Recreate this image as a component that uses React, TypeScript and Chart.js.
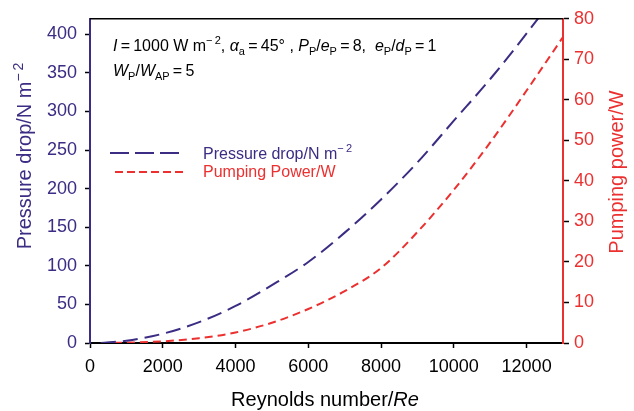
import React, { useEffect, useRef } from "react";
import { Chart, registerables } from "chart.js";

Chart.register(...registerables);

// ---- data ----
const reynolds = [300, 1000, 2000, 3000, 4000, 5000, 6000, 7000, 8000, 9000, 10000, 11000, 12000, 13000];
const pressureDrop = [0, 3, 12, 27, 48, 75, 105, 143, 186, 234, 288, 342, 401, 463];
const pumpingPower = [0, 0.1, 0.4, 1.2, 2.6, 5.0, 8.4, 12.8, 18.5, 27.4, 37.8, 49.5, 62.3, 75.5];

const xTicks = [0, 2000, 4000, 6000, 8000, 10000, 12000];
const leftTicks = [0, 50, 100, 150, 200, 250, 300, 350, 400];
const rightTicks = [0, 10, 20, 30, 40, 50, 60, 70, 80];

const PURPLE = "#3c2c84";
const RED = "#ec3030";
const FAMILY = "'Liberation Sans', Arial, Helvetica, sans-serif";

type Part = { t: string; i?: boolean; sub?: boolean; sup?: boolean };

function measureRich(ctx: CanvasRenderingContext2D, parts: Part[], size: number) {
  let w = 0;
  for (const p of parts) {
    const fs = p.sub || p.sup ? Math.round(size * 0.68) : size;
    ctx.font = `${p.i ? "italic " : ""}${fs}px ${FAMILY}`;
    w += ctx.measureText(p.t).width;
  }
  return w;
}

function drawRich(ctx: CanvasRenderingContext2D, x: number, y: number, parts: Part[], size: number, color: string) {
  let cx = x;
  ctx.fillStyle = color;
  ctx.textBaseline = "alphabetic";
  ctx.textAlign = "left";
  for (const p of parts) {
    const fs = p.sub || p.sup ? Math.round(size * 0.68) : size;
    ctx.font = `${p.i ? "italic " : ""}${fs}px ${FAMILY}`;
    const dy = p.sub ? size * 0.22 : p.sup ? -size * 0.42 : 0;
    ctx.fillText(p.t, cx, y + dy);
    cx += ctx.measureText(p.t).width;
  }
  return cx - x;
}

const T = "\u2009";
const line1: Part[] = [
  { t: "I", i: true }, { t: `${T}=${T}1000 W m` }, { t: "\u2212\u20092", sup: true }, { t: ", " },
  { t: "\u03b1", i: true }, { t: "a", sub: true }, { t: `${T}=${T}45\u00b0 , ` },
  { t: "P", i: true }, { t: "P", sub: true }, { t: "/" }, { t: "e", i: true }, { t: "P", sub: true },
  { t: `${T}=${T}8,  ` },
  { t: "e", i: true }, { t: "P", sub: true }, { t: "/" }, { t: "d", i: true }, { t: "P", sub: true },
  { t: `${T}=${T}1` },
];
const line2: Part[] = [
  { t: "W", i: true }, { t: "P", sub: true }, { t: "/" }, { t: "W", i: true }, { t: "AP", sub: true }, { t: `${T}=${T}5` },
];
const legend1: Part[] = [{ t: "Pressure drop/N m" }, { t: "\u2212\u20092", sup: true }];
const legend2: Part[] = [{ t: "Pumping Power/W" }];
const leftTitle: Part[] = [{ t: "Pressure drop/N m" }, { t: "\u2212\u20092", sup: true }];
const rightTitle: Part[] = [{ t: "Pumping power/W" }];
const bottomTitle: Part[] = [{ t: "Reynolds number/" }, { t: "Re", i: true }];

const decorPlugin = {
  id: "decor",
  afterDraw(chart: any) {
    const ctx: CanvasRenderingContext2D = chart.ctx;
    const a = chart.chartArea;
    ctx.save();
    // top frame line
    ctx.strokeStyle = "#000";
    ctx.lineWidth = 1.5;
    ctx.beginPath();
    ctx.moveTo(a.left, a.top);
    ctx.lineTo(a.right, a.top);
    ctx.stroke();

    // annotation
    drawRich(ctx, 113, 51, line1, 16, "#000");
    drawRich(ctx, 113, 76, line2, 16, "#000");

    // legend
    ctx.lineWidth = 2;
    ctx.strokeStyle = PURPLE;
    ctx.setLineDash([19, 6]);
    ctx.beginPath();
    ctx.moveTo(110, 153);
    ctx.lineTo(180, 153);
    ctx.stroke();
    ctx.strokeStyle = RED;
    ctx.setLineDash([8, 4]);
    ctx.beginPath();
    ctx.moveTo(115, 172);
    ctx.lineTo(187, 172);
    ctx.stroke();
    ctx.setLineDash([]);
    drawRich(ctx, 203, 159, legend1, 16, PURPLE);
    drawRich(ctx, 203, 177, legend2, 16, RED);

    // axis titles
    const ts = 20;
    let w = measureRich(ctx, leftTitle, ts);
    ctx.save();
    ctx.translate(31, 156);
    ctx.rotate(-Math.PI / 2);
    drawRich(ctx, -w / 2, 0, leftTitle, ts, PURPLE);
    ctx.restore();

    w = measureRich(ctx, rightTitle, ts);
    ctx.save();
    ctx.translate(623, 172);
    ctx.rotate(-Math.PI / 2);
    drawRich(ctx, -w / 2, 0, rightTitle, ts, RED);
    ctx.restore();

    w = measureRich(ctx, bottomTitle, ts);
    drawRich(ctx, 325 - w / 2, 406, bottomTitle, ts, "#000");
    ctx.restore();
  },
};

const setTicks = (values: number[]) => (s: any) => {
  s.ticks = values.map((v) => ({ value: v }));
};

export default function App() {
  const ref = useRef<HTMLCanvasElement | null>(null);
  useEffect(() => {
    if (!ref.current) return;
    const chart = new Chart(ref.current, {
      type: "line",
      data: {
        datasets: [
          {
            label: "Pressure drop/N m-2",
            data: reynolds.map((r, i) => ({ x: r, y: pressureDrop[i] })),
            borderColor: PURPLE,
            borderWidth: 2,
            borderDash: [15, 7],
            pointRadius: 0,
            cubicInterpolationMode: "monotone",
            yAxisID: "y",
          },
          {
            label: "Pumping Power/W",
            data: reynolds.map((r, i) => ({ x: r, y: pumpingPower[i] })),
            borderColor: RED,
            borderWidth: 2,
            borderDash: [8, 5],
            pointRadius: 0,
            cubicInterpolationMode: "monotone",
            yAxisID: "y1",
          },
        ],
      },
      options: {
        responsive: false,
        animation: false,
        devicePixelRatio: 1,
        layout: { padding: { top: 13, left: 0, right: 0, bottom: 0 } },
        plugins: { legend: { display: false }, tooltip: { enabled: false } },
        scales: {
          x: {
            type: "linear",
            min: 0,
            max: 13000,
            afterBuildTicks: setTicks(xTicks),
            afterFit: (s: any) => { s.height = 68; },
            border: { color: "#000", width: 2 },
            grid: { drawOnChartArea: false, drawTicks: true, tickLength: 5, tickColor: "#000", tickWidth: 1.5 },
            ticks: {
              autoSkip: false,
              color: "#000",
              padding: 8,
              maxRotation: 0,
              minRotation: 0,
              font: { family: FAMILY, size: 18 },
              callback: (v: any) => String(v),
            },
          },
          y: {
            type: "linear",
            position: "left",
            min: 0,
            max: 420,
            afterBuildTicks: setTicks(leftTicks),
            afterFit: (s: any) => { s.width = 90; },
            border: { color: PURPLE, width: 2 },
            grid: { drawOnChartArea: false, drawTicks: true, tickLength: 5, tickColor: "#000", tickWidth: 1.5 },
            ticks: {
              autoSkip: false,
              color: PURPLE,
              padding: 8,
              font: { family: FAMILY, size: 18 },
              callback: (v: any) => String(v),
            },
          },
          y1: {
            type: "linear",
            position: "right",
            min: 0,
            max: 80,
            afterBuildTicks: setTicks(rightTicks),
            afterFit: (s: any) => { s.width = 71; },
            border: { color: RED, width: 2 },
            grid: { drawOnChartArea: false, drawTicks: true, tickLength: 6, tickColor: "#000", tickWidth: 1.5 },
            ticks: {
              autoSkip: false,
              color: RED,
              padding: 5,
              font: { family: FAMILY, size: 18 },
              callback: (v: any) => String(v),
            },
          },
        },
      },
      plugins: [decorPlugin],
    } as any);
    return () => chart.destroy();
  }, []);
  return (
    <div style={{ position: "fixed", left: 0, top: 0, width: 634, height: 411, background: "#fff" }}>
      <canvas ref={ref} width={634} height={411} style={{ display: "block" }} />
    </div>
  );
}
